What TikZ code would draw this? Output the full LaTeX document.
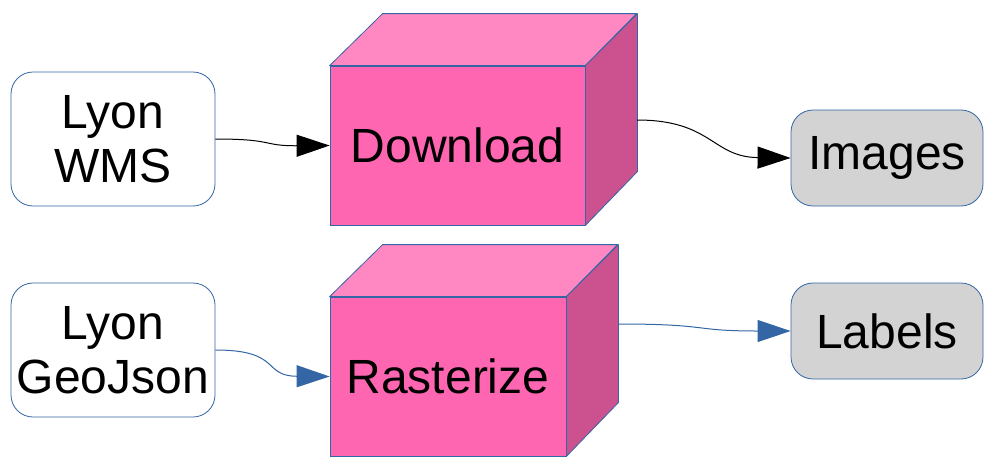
\documentclass[tikz,border=0pt]{standalone}
\usepackage{fontspec}
\setmainfont{Liberation Sans}
\usetikzlibrary{arrows.meta}
\definecolor{edge}{RGB}{52,101,164}
\definecolor{boxgray}{RGB}{211,211,211}
\definecolor{cubefront}{RGB}{255,102,178}
\definecolor{cubetop}{RGB}{255,136,194}
\definecolor{cubeside}{RGB}{204,82,143}
\begin{document}
\begin{tikzpicture}[x=1pt,y=-1pt,
  every node/.style={font=\fontsize{48}{54}\selectfont},
  srcbox/.style={draw=edge, fill=white, rounded corners=22pt, minimum width=204pt,
    minimum height=134pt, inner sep=0pt, align=center, line width=0.8pt},
  dstbox/.style={srcbox, fill=boxgray, minimum width=192pt, minimum height=96pt},
  front/.style={draw=edge, fill=cubefront, inner sep=0pt, line width=0.8pt},
  face/.style={draw=edge, line width=0.8pt, line join=round},
  flow/.style={line width=1pt, -{Triangle[length=33pt,width=22pt]}}]
\useasboundingbox (0,0) rectangle (986,459);

% sources
\node[srcbox] (wms) at (113,139) {Lyon\\WMS};
\node[srcbox] (geo) at (113,350) {Lyon\\GeoJson};

% processing cubes (front face as node, top and side drawn around it)
\node[front, minimum width=255pt, minimum height=159pt] (dl) at (457.5,145.5) {Download};
\draw[face, fill=cubetop] (dl.north west) -- ++(53,-52) -- ++(254,0) -- (dl.north east) -- cycle;
\draw[face, fill=cubeside] (dl.north east) -- ++(52,-52) -- ++(0,158) -- (dl.south east) -- cycle;

\node[front, minimum width=236pt, minimum height=159pt] (rs) at (448,376.5) {Rasterize};
\draw[face, fill=cubetop] (rs.north west) -- ++(53,-52) -- ++(235,0) -- (rs.north east) -- cycle;
\draw[face, fill=cubeside] (rs.north east) -- ++(52,-52) -- ++(0,158) -- (rs.south east) -- cycle;

% outputs
\node[dstbox] (img) at (887,158) {Images};
\node[dstbox] (lbl) at (887,331) {Labels};

% exits on the cube side faces
\coordinate (dlout) at (637,120);
\coordinate (rsout) at (618,324);

% connectors
\draw[flow, black] (wms.east) .. controls (275,139) and (262,146) .. (dl.west);
\draw[flow, black] (dlout) .. controls (712,120) and (712,157) .. (img.west);
\draw[flow, edge] (geo.east) .. controls (282,350) and (262,376) .. (rs.west);
\draw[flow, edge] (rsout) .. controls (712,324) and (690,331) .. (lbl.west);
\end{tikzpicture}
\end{document}
